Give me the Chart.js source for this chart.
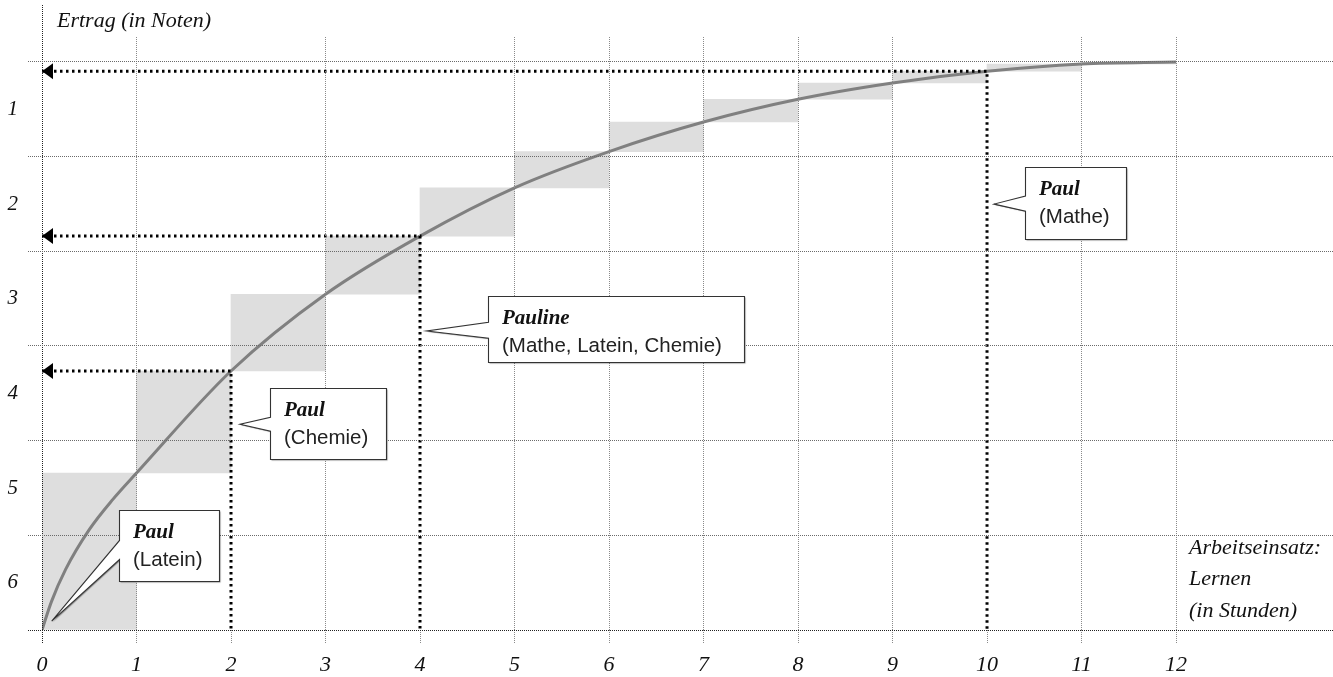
<!DOCTYPE html>
<html>
<head>
<meta charset="utf-8">
<script src="https://cdn.jsdelivr.net/npm/chart.js@4.4.0/dist/chart.umd.min.js"></script>
<style>
html,body{margin:0;padding:0;background:#fff;}
#wrap{width:1333px;height:677px;position:relative;}
</style>
</head>
<body>
<div id="wrap"><canvas id="c" width="1333" height="677"></canvas></div>
<script>
// ---------- data ----------
const hourLabels = ['0','1','2','3','4','5','6','7','8','9','10','11','12'];
const gradeLabels = ['1','2','3','4','5','6'];           // top band -> bottom band
const hours  = [0, 1, 2, 3, 4, 5, 6, 7, 8, 9, 10, 11, 12];
const ertrag = [0, 1.658, 2.736, 3.547, 4.161, 4.671, 5.054, 5.366, 5.606, 5.778, 5.902, 5.979, 6.0];
const curveExtraHours  = [0.1, 0.25, 0.5, 0.75];
const curveExtraErtrag = [0.30, 0.64, 1.06, 1.38];
const markerHours = [2, 4, 10];                          // Paul (Chemie), Pauline, Paul (Mathe)
const calloutNames    = ['Paul', 'Paul', 'Pauline', 'Paul'];
const calloutSubjects = ['(Latein)', '(Chemie)', '(Mathe, Latein, Chemie)', '(Mathe)'];
const yAxisTitle = 'Ertrag (in Noten)';
const xAxisTitle = ['Arbeitseinsatz:', 'Lernen', '(in Stunden)'];

// ---------- layout of callouts (data coordinates) ----------
const calloutBoxes = [
  {l: 0.815, r: 1.873, t: 1.263, b: 0.513, n1: 0.946, n2: 0.745, tx: 0.103, ty: 0.093},
  {l: 2.413, r: 3.640, t: 2.553, b: 1.802, n1: 2.247, n2: 2.099, tx: 2.095, ty: 2.173},
  {l: 4.720, r: 7.429, t: 3.529, b: 2.828, n1: 3.251, n2: 3.082, tx: 4.071, ty: 3.159},
  {l: 10.402, r: 11.471, t: 4.890, b: 4.129, n1: 4.584, n2: 4.425, tx: 10.074, ty: 4.499}
];

// ---------- derived series ----------
const stepData = hours.slice(0, -1).map((h, i) => ({x: h + 0.5, y: [ertrag[i], ertrag[i + 1]]}));
const curveData = hours.map((h, i) => ({x: h, y: ertrag[i]}))
  .concat(curveExtraHours.map((h, i) => ({x: h, y: curveExtraErtrag[i]})))
  .sort((a, b) => a.x - b.x);
const guideSets = markerHours.map(h => {
  const v = ertrag[hours.indexOf(h)];
  return {
    type: 'line',
    data: [{x: 0, y: v}, {x: h, y: v}, {x: h, y: 0}],
    borderColor: '#000',
    borderWidth: 3,
    borderDash: [2.5, 3.5],
    borderCapStyle: 'butt',
    pointRadius: 0,
    fill: false,
    tension: 0,
    order: 1
  };
});

const serif = '"Liberation Serif", "Times New Roman", serif';
const sans = '"Liberation Sans", Arial, Helvetica, sans-serif';

const overlay = {
  id: 'overlay',
  afterDraw(chart) {
    const {ctx, chartArea, scales: {x, y}} = chart;
    ctx.save();
    // y-axis line extending above the plot
    const x0 = Math.round(x.getPixelForValue(0)) + 0.5;
    ctx.strokeStyle = '#222';
    ctx.lineWidth = 1;
    ctx.setLineDash([1, 1]);
    ctx.beginPath();
    ctx.moveTo(x0, 5);
    ctx.lineTo(x0, chartArea.top);
    ctx.stroke();
    ctx.setLineDash([]);

    // arrowheads at the y axis
    ctx.fillStyle = '#000';
    markerHours.forEach(h => {
      const v = ertrag[hours.indexOf(h)];
      const px = x.getPixelForValue(0), py = y.getPixelForValue(v);
      ctx.beginPath();
      ctx.moveTo(px, py);
      ctx.lineTo(px + 11, py - 8);
      ctx.lineTo(px + 11, py + 8);
      ctx.closePath();
      ctx.fill();
    });

    // callouts
    calloutBoxes.forEach((c, i) => {
      const L = Math.round(x.getPixelForValue(c.l)) + 0.5;
      const R = Math.round(x.getPixelForValue(c.r)) + 0.5;
      const T = Math.round(y.getPixelForValue(c.t)) + 0.5;
      const B = Math.round(y.getPixelForValue(c.b)) + 0.5;
      const na = y.getPixelForValue(c.n1), nb = y.getPixelForValue(c.n2);
      const nTop = Math.min(na, nb), nBot = Math.max(na, nb);
      const tx = x.getPixelForValue(c.tx), ty = y.getPixelForValue(c.ty);
      ctx.beginPath();
      ctx.moveTo(L, T);
      ctx.lineTo(R, T);
      ctx.lineTo(R, B);
      ctx.lineTo(L, B);
      ctx.lineTo(L, nBot);
      ctx.lineTo(tx, ty);
      ctx.lineTo(L, nTop);
      ctx.closePath();
      ctx.save();
      ctx.shadowColor = 'rgba(0,0,0,0.45)';
      ctx.shadowOffsetX = 1;
      ctx.shadowOffsetY = 1;
      ctx.shadowBlur = 1;
      ctx.fillStyle = '#fff';
      ctx.fill();
      ctx.restore();
      ctx.strokeStyle = '#333';
      ctx.lineWidth = 1.1;
      ctx.lineJoin = 'miter';
      ctx.stroke();

      ctx.textAlign = 'left';
      ctx.textBaseline = 'alphabetic';
      ctx.fillStyle = '#111';
      ctx.font = 'italic bold 21px ' + serif;
      ctx.fillText(calloutNames[i], L + 13.5, T + 27);
      ctx.fillStyle = '#222';
      ctx.font = '20.5px ' + sans;
      ctx.fillText(calloutSubjects[i], L + 13.5, T + 55.5);
    });

    // axis titles
    ctx.fillStyle = '#111';
    ctx.font = 'italic 22px ' + serif;
    ctx.textAlign = 'left';
    ctx.textBaseline = 'alphabetic';
    ctx.fillText(yAxisTitle, chartArea.left + 15, 27);
    const tX = x.getPixelForValue(12) + 13;
    xAxisTitle.forEach((t, i) => ctx.fillText(t, tX, 554 + i * 31.3));
    ctx.restore();
  }
};

new Chart(document.getElementById('c'), {
  type: 'bar',
  data: {
    datasets: [
      {
        type: 'line',
        data: curveData,
        borderColor: '#808080',
        borderWidth: 3,
        cubicInterpolationMode: 'monotone',
        pointRadius: 0,
        fill: false,
        order: 2
      },
      ...guideSets,
      {
        type: 'bar',
        data: stepData,
        backgroundColor: '#dedede',
        borderWidth: 0,
        barPercentage: 1,
        categoryPercentage: 1,
        order: 5
      }
    ]
  },
  options: {
    responsive: false,
    devicePixelRatio: 1,
    animation: false,
    events: [],
    layout: {padding: {top: 37, left: 0, right: 0, bottom: 0}},
    plugins: {legend: {display: false}, tooltip: {enabled: false}, title: {display: false}},
    scales: {
      x: {
        type: 'linear',
        min: 0,
        max: 13.661,
        offset: false,
        afterBuildTicks: s => { s.ticks = hours.map(h => ({value: h})); },
        afterFit: s => { s.height = 47; },
        grid: {
          offset: false,
          z: 1,
          color: c => {
            if (!c.tick) return '#8a8a8a';
            if (c.tick.value === 0) return '#222';
            if (markerHours.includes(c.tick.value)) return 'rgba(0,0,0,0)';
            return '#8a8a8a';
          },
          tickColor: c => (c.tick && c.tick.value === 0) ? '#222' : '#8a8a8a',
          lineWidth: 1,
          drawTicks: true,
          tickLength: 13,
          tickBorderDash: [1, 1]
        },
        border: {display: false, dash: [1, 1]},
        ticks: {
          autoSkip: false,
          maxRotation: 0,
          padding: 9,
          color: '#111',
          font: {family: serif, style: 'italic', size: 22},
          callback: (v, i) => hourLabels[i]
        }
      },
      y: {
        type: 'linear',
        min: 0,
        max: 6.264,
        afterBuildTicks: s => {
          const t = [];
          for (let i = 0; i <= gradeLabels.length; i++) {
            t.push({value: i});
            if (i < gradeLabels.length) t.push({value: i + 0.5});
          }
          s.ticks = t;
        },
        afterFit: s => { s.width = 42; },
        grid: {
          z: 1,
          color: c => {
            if (!c.tick || c.tick.value % 1 !== 0) return 'rgba(0,0,0,0)';
            return c.tick.value === 0 ? '#222' : '#6a6a6a';
          },
          lineWidth: 1,
          drawTicks: true,
          tickLength: 14,
          tickBorderDash: [1, 1]
        },
        border: {display: false, dash: [1, 1]},
        ticks: {
          padding: 10,
          color: '#111',
          font: {family: serif, style: 'italic', size: 21},
          callback: v => (v % 1 === 0.5) ? gradeLabels[gradeLabels.length - 1 - Math.floor(v)] : ''
        }
      }
    }
  },
  plugins: [overlay]
});
</script>
</body>
</html>
